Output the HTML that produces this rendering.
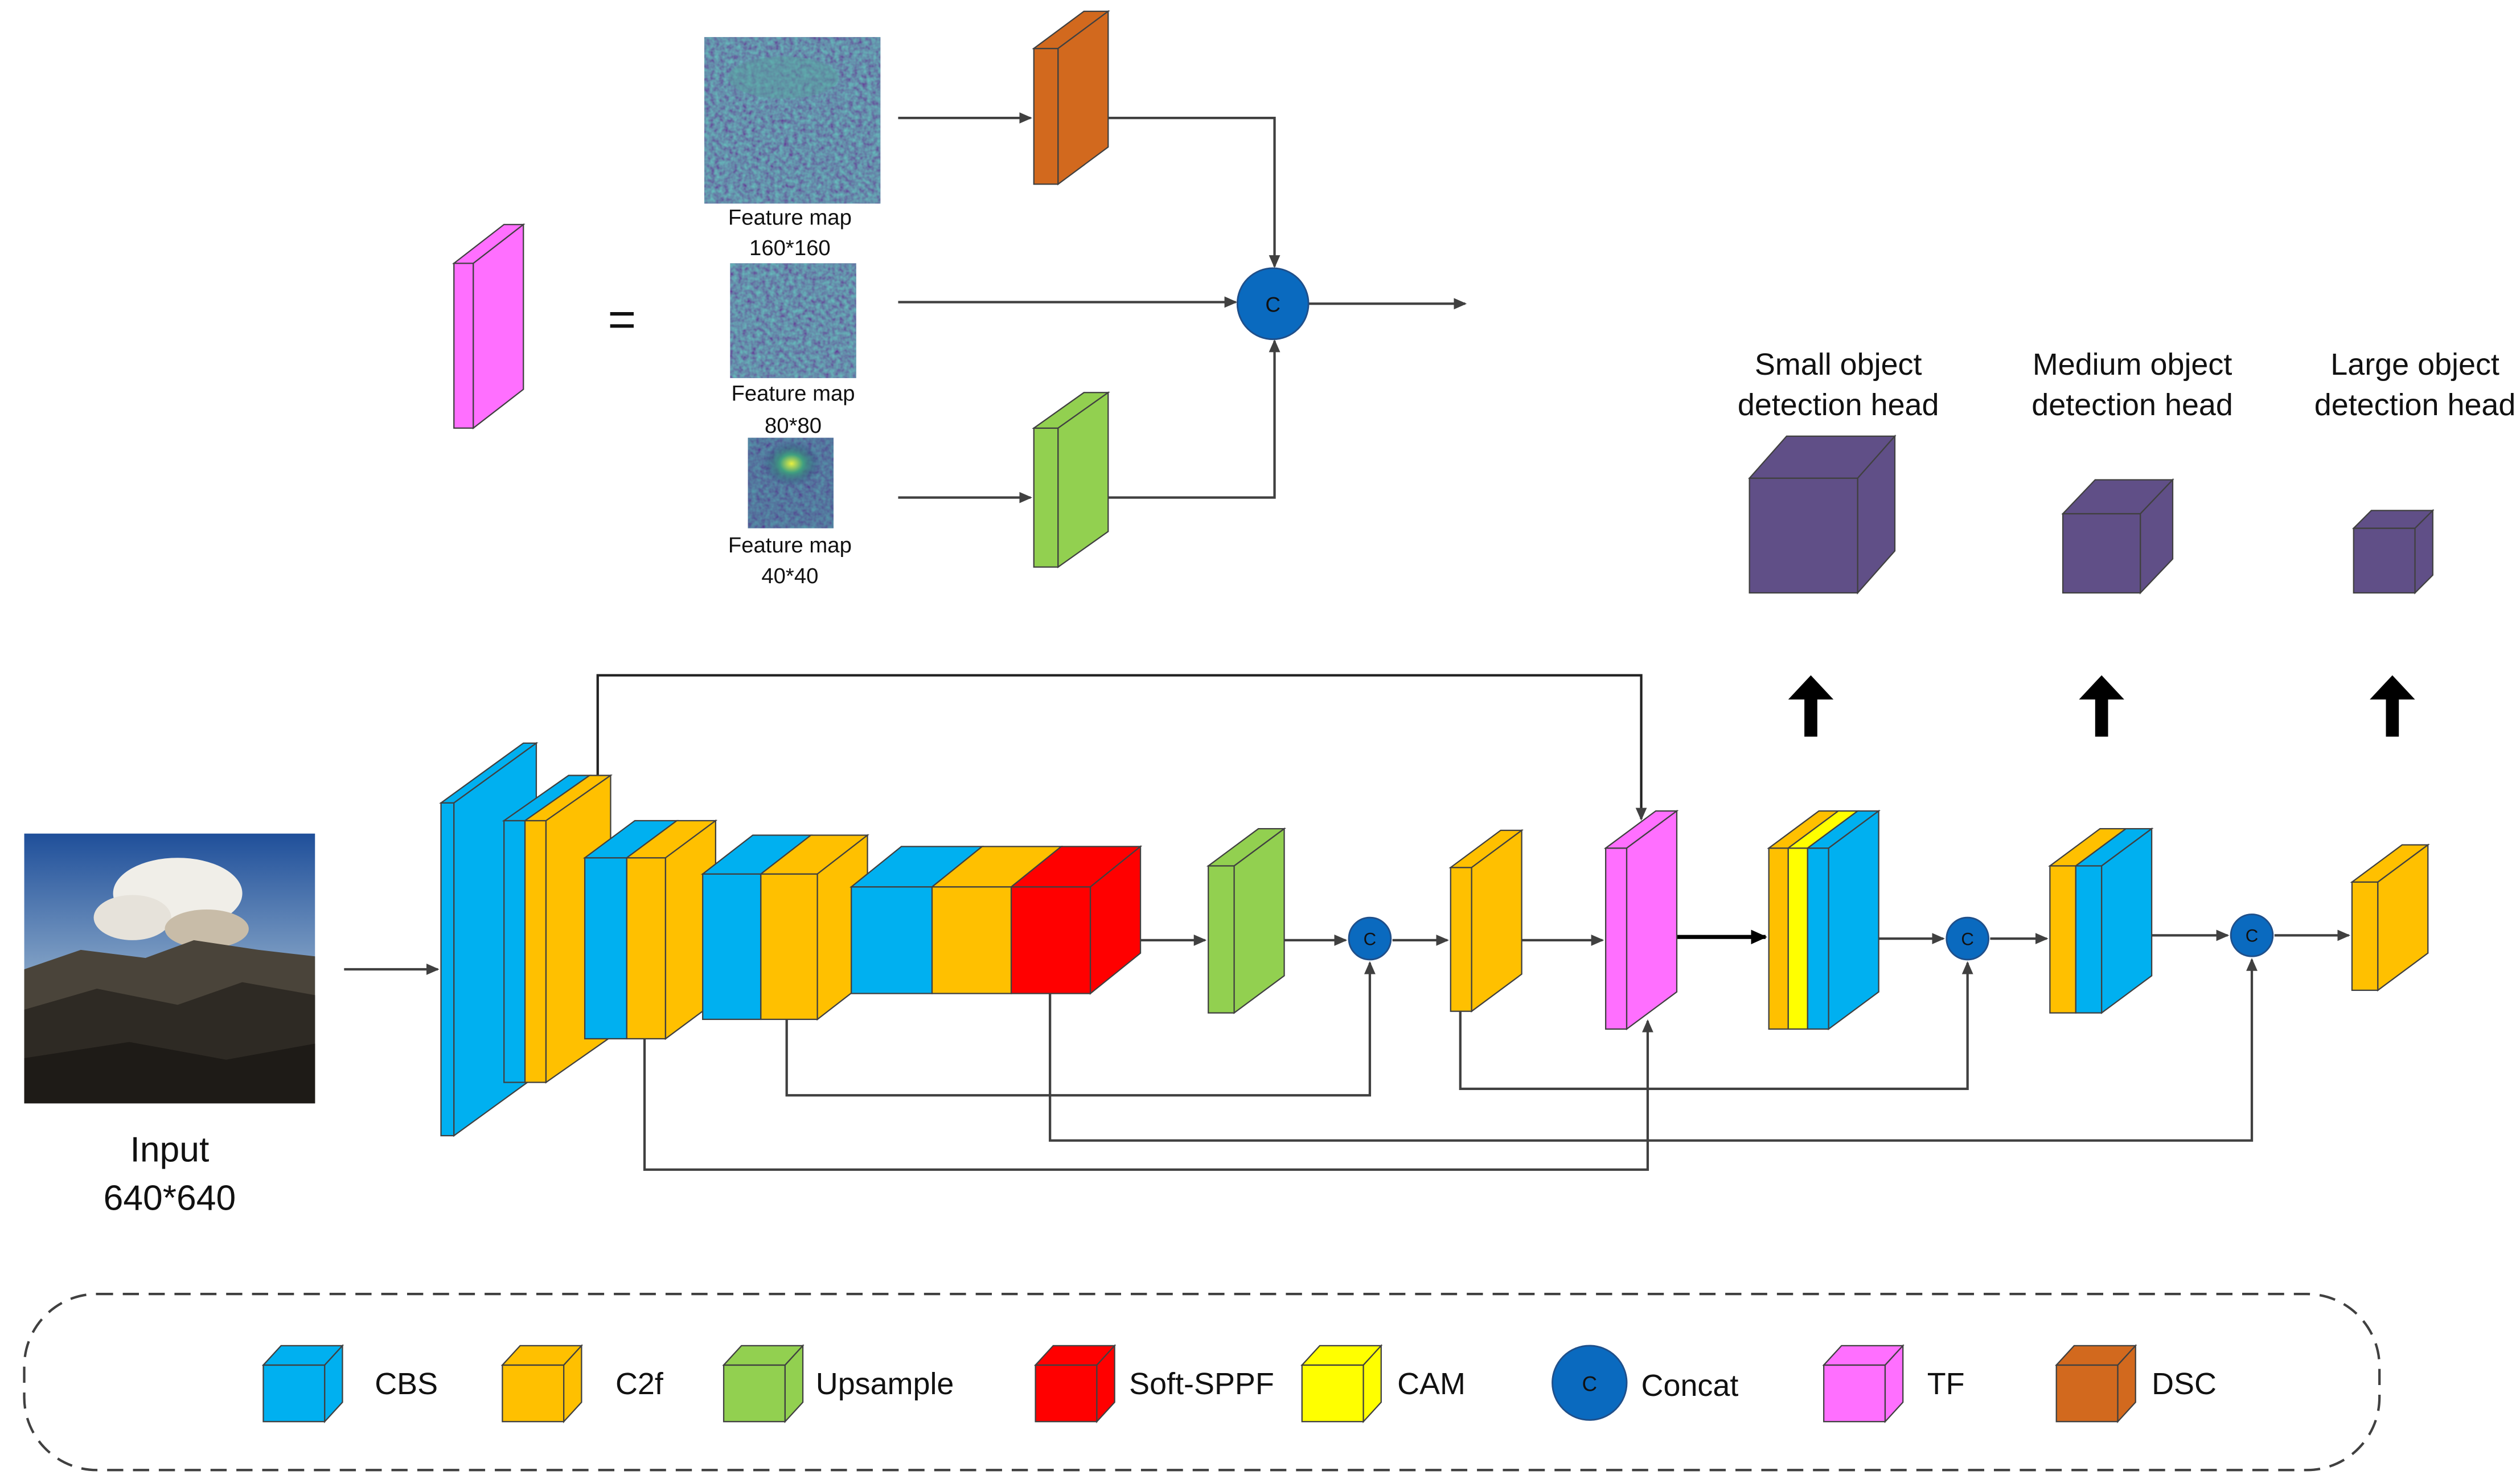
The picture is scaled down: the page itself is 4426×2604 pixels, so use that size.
<!DOCTYPE html>
<html><head><meta charset="utf-8">
<style>
html,body{margin:0;padding:0;background:#fff;}
svg{display:block;}
text{font-family:"Liberation Sans",sans-serif;fill:#111;}
</style></head>
<body>
<svg width="4426" height="2604" viewBox="0 0 1560 918" preserveAspectRatio="none" xmlns="http://www.w3.org/2000/svg">
<defs>
<marker id="a" markerWidth="8" markerHeight="8" refX="7" refY="4" orient="auto" markerUnits="userSpaceOnUse">
<path d="M0,0.5 L8,4 L0,7.5 z" fill="#404040"/></marker>
<marker id="ab" markerWidth="10" markerHeight="10" refX="9" refY="5" orient="auto" markerUnits="userSpaceOnUse">
<path d="M0,0.5 L10,5 L0,9.5 z" fill="#000"/></marker>
<filter id="noise" x="0" y="0" width="100%" height="100%">
<feTurbulence type="fractalNoise" baseFrequency="0.35" numOctaves="2" seed="3" result="t"/>
<feColorMatrix in="t" type="matrix" values="0 0 0 0 0.16  0.8 0 0 0 -0.05  0.3 0 0 0 0.32  0 0 0 0 1" result="c"/>
<feComposite in="c" in2="SourceGraphic" operator="in"/>
</filter>
<linearGradient id="sky" x1="0" y1="0" x2="0" y2="1">
<stop offset="0" stop-color="#1f4f9a"/><stop offset="0.5" stop-color="#7f9fc4"/><stop offset="1" stop-color="#b9c4cc"/>
</linearGradient>
<radialGradient id="glow" cx="0.5" cy="0.5" r="0.5">
<stop offset="0" stop-color="#e8f040"/><stop offset="0.4" stop-color="#40a080"/><stop offset="1" stop-color="#2a3a7a" stop-opacity="0"/>
</radialGradient>
</defs>

<g stroke="#404040" stroke-width="0.8">
<rect x="281" y="163" width="12" height="102" fill="#ff6fff"/>
<polygon points="281,163 312,139 324,139 293,163" fill="#ff6fff"/>
<polygon points="293,163 324,139 324,241 293,265" fill="#ff6fff"/>
<rect x="640" y="30" width="15" height="84" fill="#d2691e"/>
<polygon points="640,30 671,7 686,7 655,30" fill="#d2691e"/>
<polygon points="655,30 686,7 686,91 655,114" fill="#d2691e"/>
<rect x="640" y="265" width="15" height="86" fill="#92d050"/>
<polygon points="640,265 671,243 686,243 655,265" fill="#92d050"/>
<polygon points="655,265 686,243 686,329 655,351" fill="#92d050"/>
<rect x="1083" y="296" width="67" height="71" fill="#604f87"/>
<polygon points="1083,296 1106,270 1173,270 1150,296" fill="#604f87"/>
<polygon points="1150,296 1173,270 1173,341 1150,367" fill="#604f87"/>
<rect x="1277" y="318" width="48" height="49" fill="#604f87"/>
<polygon points="1277,318 1297,297 1345,297 1325,318" fill="#604f87"/>
<polygon points="1325,318 1345,297 1345,346 1325,367" fill="#604f87"/>
<rect x="1457" y="327" width="38" height="40" fill="#604f87"/>
<polygon points="1457,327 1468,316 1506,316 1495,327" fill="#604f87"/>
<polygon points="1495,327 1506,316 1506,356 1495,367" fill="#604f87"/>
</g>

<!-- feature maps -->
<rect x="436" y="23" width="109" height="103" fill="#26306e"/>
<rect x="436" y="23" width="109" height="103" fill="#000" filter="url(#noise)" opacity="0.85"/>
<ellipse cx="485" cy="48" rx="34" ry="13" fill="#5aa0a0" opacity="0.5"/>
<rect x="452" y="163" width="78" height="71" fill="#26306e"/>
<rect x="452" y="163" width="78" height="71" fill="#000" filter="url(#noise)" opacity="0.85"/>
<rect x="463" y="271" width="53" height="56" fill="#2a3a7a"/>
<rect x="463" y="271" width="53" height="56" fill="#000" filter="url(#noise)" opacity="0.6"/>
<ellipse cx="490" cy="287" rx="18" ry="14" fill="url(#glow)"/>
<g font-size="13.5" text-anchor="middle">
<text x="489" y="139">Feature map</text><text x="489" y="158">160*160</text>
<text x="491" y="248">Feature map</text><text x="491" y="268">80*80</text>
<text x="489" y="342">Feature map</text><text x="489" y="361">40*40</text>
</g>
<text x="385" y="208" font-size="30" text-anchor="middle">=</text>

<g stroke="#404040" stroke-width="1.5" fill="none">
<line x1="556" y1="73" x2="638" y2="73" marker-end="url(#a)"/>
<line x1="556" y1="187" x2="765" y2="187" marker-end="url(#a)"/>
<line x1="556" y1="308" x2="638" y2="308" marker-end="url(#a)"/>
<polyline points="686,73 789,73 789,165" marker-end="url(#a)"/>
<polyline points="686,308 789,308 789,211" marker-end="url(#a)"/>
<line x1="810" y1="188" x2="907" y2="188" marker-end="url(#a)"/>
</g>
<circle cx="788" cy="188" r="22" fill="#0a6abf" stroke="#1f4f8a" stroke-width="1"/>
<text x="788" y="193" font-size="13" text-anchor="middle">C</text>

<g font-size="19" text-anchor="middle">
<text x="1138" y="232">Small object</text><text x="1138" y="257">detection head</text>
<text x="1320" y="232">Medium object</text><text x="1320" y="257">detection head</text>
<text x="1495" y="232">Large  object</text><text x="1495" y="257">detection head</text>
</g>
<g fill="#000">
<polygon points="1107,433 1121,418 1135,433 1125,433 1125,456 1117,456 1117,433"/>
<polygon points="1287,433 1301,418 1315,433 1305,433 1305,456 1297,456 1297,433"/>
<polygon points="1467,433 1481,418 1495,433 1485,433 1485,456 1477,456 1477,433"/>
</g>

<!-- input image -->
<rect x="15" y="516" width="180" height="167" fill="url(#sky)"/>
<ellipse cx="110" cy="553" rx="40" ry="22" fill="#f0eee8"/>
<ellipse cx="82" cy="568" rx="24" ry="14" fill="#e6e2da"/>
<ellipse cx="128" cy="575" rx="26" ry="12" fill="#c8bca8"/>
<polygon points="15,600 50,588 90,593 120,582 160,588 195,592 195,683 15,683" fill="#4a443a"/>
<polygon points="15,625 60,612 110,622 150,608 195,616 195,683 15,683" fill="#2e2a24"/>
<polygon points="15,655 80,645 140,656 195,646 195,683 15,683" fill="#1e1b17"/>
<text x="105" y="719" font-size="22" text-anchor="middle">Input</text>
<text x="105" y="749" font-size="22" text-anchor="middle">640*640</text>

<g stroke="#404040" stroke-width="1.5" fill="none">
<line x1="213" y1="600" x2="271" y2="600" marker-end="url(#a)"/>
<polyline points="370,480 370,418 1016,418 1016,507" stroke="#222" marker-end="url(#a)"/>
<polyline points="487,631 487,678 848,678 848,596" marker-end="url(#a)"/>
<polyline points="904,626 904,674 1218,674 1218,596" marker-end="url(#a)"/>
<polyline points="650,615 650,706 1394,706 1394,594" marker-end="url(#a)"/>
<polyline points="399,643 399,724 1020,724 1020,632" marker-end="url(#a)"/>
<line x1="706" y1="582" x2="746" y2="582" marker-end="url(#a)"/>
<line x1="795" y1="582" x2="833" y2="582" marker-end="url(#a)"/>
<line x1="862" y1="582" x2="896" y2="582" marker-end="url(#a)"/>
<line x1="942" y1="582" x2="992" y2="582" marker-end="url(#a)"/>
<line x1="1038" y1="580" x2="1093" y2="580" stroke="#000" stroke-width="2.5" marker-end="url(#ab)"/>
<line x1="1163" y1="581" x2="1203" y2="581" marker-end="url(#a)"/>
<line x1="1232" y1="581" x2="1267" y2="581" marker-end="url(#a)"/>
<line x1="1332" y1="579" x2="1379" y2="579" marker-end="url(#a)"/>
<line x1="1408" y1="579" x2="1454" y2="579" marker-end="url(#a)"/>
</g>

<g stroke="#404040" stroke-width="0.8">
<rect x="273" y="497" width="8" height="206" fill="#00b0f0"/>
<polygon points="273,497 324,460 332,460 281,497" fill="#00b0f0"/>
<polygon points="281,497 332,460 332,666 281,703" fill="#00b0f0"/>
<rect x="312" y="508" width="13" height="162" fill="#00b0f0"/>
<rect x="325" y="508" width="13" height="162" fill="#ffc000"/>
<polygon points="312,508 352,480 365,480 325,508" fill="#00b0f0"/>
<polygon points="325,508 365,480 378,480 338,508" fill="#ffc000"/>
<polygon points="338,508 378,480 378,642 338,670" fill="#ffc000"/>
<rect x="362" y="531" width="26" height="112" fill="#00b0f0"/>
<rect x="388" y="531" width="24" height="112" fill="#ffc000"/>
<polygon points="362,531 393,508 419,508 388,531" fill="#00b0f0"/>
<polygon points="388,531 419,508 443,508 412,531" fill="#ffc000"/>
<polygon points="412,531 443,508 443,620 412,643" fill="#ffc000"/>
<rect x="435" y="541" width="36" height="90" fill="#00b0f0"/>
<rect x="471" y="541" width="35" height="90" fill="#ffc000"/>
<polygon points="435,541 466,517 502,517 471,541" fill="#00b0f0"/>
<polygon points="471,541 502,517 537,517 506,541" fill="#ffc000"/>
<polygon points="506,541 537,517 537,607 506,631" fill="#ffc000"/>
<rect x="527" y="549" width="50" height="66" fill="#00b0f0"/>
<rect x="577" y="549" width="49" height="66" fill="#ffc000"/>
<rect x="626" y="549" width="49" height="66" fill="#ff0000"/>
<polygon points="527,549 558,524 608,524 577,549" fill="#00b0f0"/>
<polygon points="577,549 608,524 657,524 626,549" fill="#ffc000"/>
<polygon points="626,549 657,524 706,524 675,549" fill="#ff0000"/>
<polygon points="675,549 706,524 706,590 675,615" fill="#ff0000"/>
<rect x="748" y="536" width="16" height="91" fill="#92d050"/>
<polygon points="748,536 779,513 795,513 764,536" fill="#92d050"/>
<polygon points="764,536 795,513 795,604 764,627" fill="#92d050"/>
<rect x="898" y="537" width="13" height="89" fill="#ffc000"/>
<polygon points="898,537 929,514 942,514 911,537" fill="#ffc000"/>
<polygon points="911,537 942,514 942,603 911,626" fill="#ffc000"/>
<rect x="994" y="525" width="13" height="112" fill="#ff6fff"/>
<polygon points="994,525 1025,502 1038,502 1007,525" fill="#ff6fff"/>
<polygon points="1007,525 1038,502 1038,614 1007,637" fill="#ff6fff"/>
<rect x="1095" y="525" width="12" height="112" fill="#ffc000"/>
<rect x="1107" y="525" width="12" height="112" fill="#ffff00"/>
<rect x="1119" y="525" width="13" height="112" fill="#00b0f0"/>
<polygon points="1095,525 1126,502 1138,502 1107,525" fill="#ffc000"/>
<polygon points="1107,525 1138,502 1150,502 1119,525" fill="#ffff00"/>
<polygon points="1119,525 1150,502 1163,502 1132,525" fill="#00b0f0"/>
<polygon points="1132,525 1163,502 1163,614 1132,637" fill="#00b0f0"/>
<rect x="1269" y="536" width="16" height="91" fill="#ffc000"/>
<rect x="1285" y="536" width="16" height="91" fill="#00b0f0"/>
<polygon points="1269,536 1300,513 1316,513 1285,536" fill="#ffc000"/>
<polygon points="1285,536 1316,513 1332,513 1301,536" fill="#00b0f0"/>
<polygon points="1301,536 1332,513 1332,604 1301,627" fill="#00b0f0"/>
<rect x="1456" y="546" width="16" height="67" fill="#ffc000"/>
<polygon points="1456,546 1487,523 1503,523 1472,546" fill="#ffc000"/>
<polygon points="1472,546 1503,523 1503,590 1472,613" fill="#ffc000"/>
</g>
<g fill="#0a6abf" stroke="#1f4f8a" stroke-width="1">
<circle cx="848" cy="581" r="13"/><circle cx="1218" cy="581" r="13"/><circle cx="1394" cy="579" r="13"/>
</g>
<g font-size="11" text-anchor="middle">
<text x="848" y="585">C</text><text x="1218" y="585">C</text><text x="1394" y="583">C</text>
</g>

<rect x="15" y="801" width="1458" height="109" rx="45" ry="45" fill="none" stroke="#404040" stroke-width="1.5" stroke-dasharray="10,6"/>
<g stroke="#404040" stroke-width="0.8">
<rect x="163" y="845" width="38" height="35" fill="#00b0f0"/><polygon points="163,845 174,833 212,833 201,845" fill="#00b0f0"/><polygon points="201,845 212,833 212,868 201,880" fill="#00b0f0"/>
<rect x="311" y="845" width="38" height="35" fill="#ffc000"/><polygon points="311,845 322,833 360,833 349,845" fill="#ffc000"/><polygon points="349,845 360,833 360,868 349,880" fill="#ffc000"/>
<rect x="448" y="845" width="38" height="35" fill="#92d050"/><polygon points="448,845 459,833 497,833 486,845" fill="#92d050"/><polygon points="486,845 497,833 497,868 486,880" fill="#92d050"/>
<rect x="641" y="845" width="38" height="35" fill="#ff0000"/><polygon points="641,845 652,833 690,833 679,845" fill="#ff0000"/><polygon points="679,845 690,833 690,868 679,880" fill="#ff0000"/>
<rect x="806" y="845" width="38" height="35" fill="#ffff00"/><polygon points="806,845 817,833 855,833 844,845" fill="#ffff00"/><polygon points="844,845 855,833 855,868 844,880" fill="#ffff00"/>
<rect x="1129" y="845" width="38" height="35" fill="#ff6fff"/><polygon points="1129,845 1140,833 1178,833 1167,845" fill="#ff6fff"/><polygon points="1167,845 1178,833 1178,868 1167,880" fill="#ff6fff"/>
<rect x="1273" y="845" width="38" height="35" fill="#d2691e"/><polygon points="1273,845 1284,833 1322,833 1311,845" fill="#d2691e"/><polygon points="1311,845 1322,833 1322,868 1311,880" fill="#d2691e"/>
</g>
<circle cx="984" cy="856" r="23" fill="#0a6abf" stroke="#1f4f8a" stroke-width="1"/>
<text x="984" y="861" font-size="13" text-anchor="middle">C</text>
<g font-size="19">
<text x="232" y="863">CBS</text>
<text x="381" y="863">C2f</text>
<text x="505" y="863">Upsample</text>
<text x="699" y="863">Soft-SPPF</text>
<text x="865" y="863">CAM</text>
<text x="1016" y="864">Concat</text>
<text x="1193" y="863">TF</text>
<text x="1332" y="863">DSC</text>
</g>
</svg>
</body></html>
